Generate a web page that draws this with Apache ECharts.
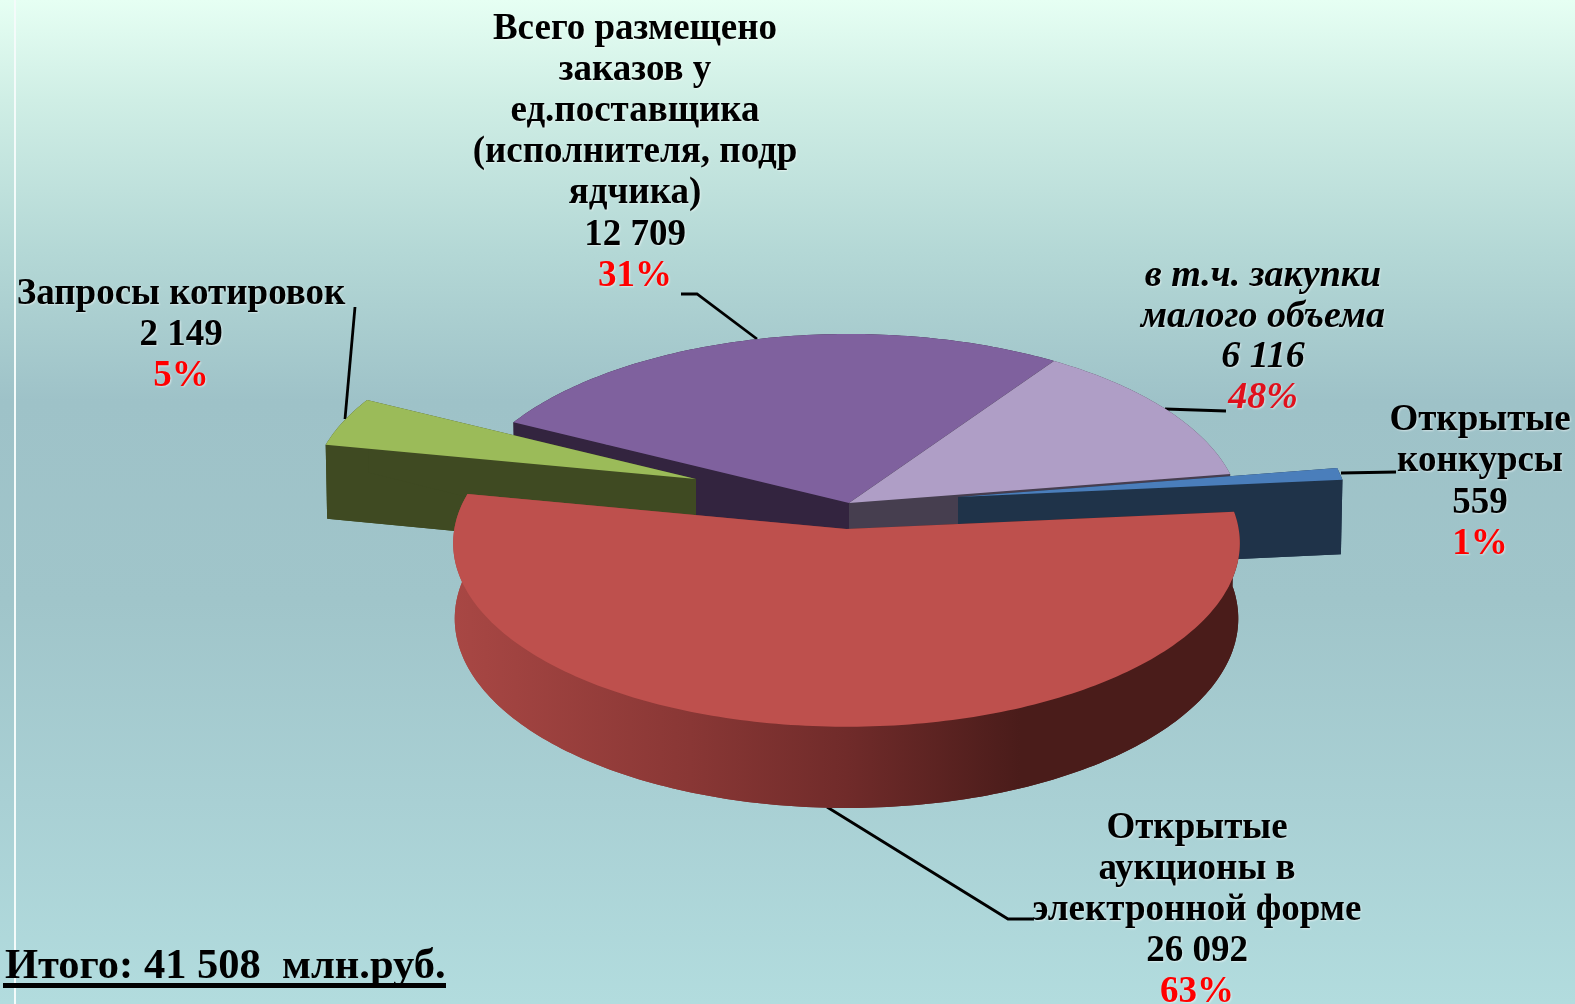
<!DOCTYPE html>
<html>
<head>
<meta charset="utf-8">
<title>Итого</title>
<style>html,body{margin:0;padding:0;}#chart{width:1575px;height:1004px;}</style>
<script src="https://cdn.jsdelivr.net/npm/echarts@6/dist/echarts.min.js"></script>
</head>
<body>
<div id="chart"></div>
<script>
// slice names, clockwise from the blue slice
var categories = ['Открытые конкурсы', 'Открытые аукционы в электронной форме', 'Запросы котировок', 'Всего размещено заказов у ед.поставщика', 'в т.ч. закупки малого объема'];
// printed on the labels
var labelValues = ['559', '26 092', '2 149', '12 709', '6 116'];
var labelPercents = ['1%', '63%', '5%', '31%', '48%'];
// share of the circle each slice really takes in the picture (%).
// the picture does not draw them to the printed numbers
var sliceShares = [1.06, 54.64, 4.47, 26.83, 13.0];
var totalText = 'Итого: 41 508  млн.руб.';

// pie geometry
var firstAngle = 80.7;
var pieX = 849, pieY = 503;
var radiusX = 391, radiusY = 182, tilt = 0.0769, depth = 75;
var bottomShrink = 0.996;

var sliceLook = [
    {top: '#4a7ebb', wall: '#1f3349', dx: 109, dy: -6, scale: 0.995},
    {top: '#be504d', wall: '#4a1c1a', dx: -2.5, dy: 26, scale: 1.003},
    {top: '#9bbb59', wall: '#3f4a22', dx: -153, dy: -24, scale: 0.98},
    {top: '#7f619e', wall: '#33243f', dx: 0, dy: 0, scale: 1},
    {top: '#af9ec6', wall: '#463e4f', dx: 0, dy: 0, scale: 1}
];
// back slices first, the red one goes over everything
var drawOrder = [3, 4, 2, 0, 1];

var labelBoxes = [
    {x: 1480, y: 420, step: 41.5, lines: ['Открытые', 'конкурсы']},
    {x: 1197, y: 828, step: 41, lines: ['Открытые', 'аукционы в', 'электронной форме']},
    {x: 181, y: 294, step: 41.3, lines: ['Запросы котировок']},
    {x: 635, y: 29, step: 41.2, lines: ['Всего размещено', 'заказов у', 'ед.поставщика', '(исполнителя, подр', 'ядчика)']},
    {x: 1263, y: 276, step: 40.8, lines: ['в т.ч. закупки', 'малого объема'], italic: true}
];
var leaders = [
    [[1341, 473], [1396, 472]],
    [[827, 807], [1008, 919], [1034, 919]],
    [[345, 419], [355, 307]],
    [[681, 294], [697, 294], [757, 339]],
    [[1165, 409], [1226, 411]]
];

var startAngles = [];
var sum = 0;
sliceShares.forEach(function (share) {
    startAngles.push(firstAngle + sum * 3.6);
    sum += share;
});

// point of the rim on the tilted circle, with a little perspective
function rimPoint(deg, look, lower) {
    var a = deg * Math.PI / 180;
    var w = 1 + tilt * Math.cos(a);
    var x = look.scale * radiusX * Math.sin(a) / w;
    var y = -look.scale * radiusY * Math.cos(a) / w;
    if (lower) {
        x = x * bottomShrink;
        y = y + depth / w;
    }
    return [pieX + look.dx + x, pieY + look.dy + y];
}
function apexPoint(look, lower) {
    return [pieX + look.dx, pieY + look.dy + (lower ? depth : 0)];
}
function face(start, end, look, lower) {
    var pts = [apexPoint(look, lower)];
    for (var d = start; d < end; d += 1) {
        pts.push(rimPoint(d, look, lower));
    }
    pts.push(rimPoint(end, look, lower));
    return pts;
}

function renderSlice(params, api) {
    var idx = api.value(0);
    var look = sliceLook[idx];
    var start = startAngles[idx];
    var end = start + api.value(1) * 3.6;
    var wallFill = look.wall;
    if (idx === 1) {
        wallFill = new echarts.graphic.LinearGradient(455, 0, 1240, 0, [
            {offset: 0, color: '#a84744'},
            {offset: 0.3, color: '#893735'},
            {offset: 0.5, color: '#702b2a'},
            {offset: 0.72, color: '#4a1c1a'},
            {offset: 1, color: '#4a1c1a'}
        ], true);
    }
    var topPts = face(start, end, look, false);
    var lowPts = face(start, end, look, true);
    var children = [];
    children.push({type: 'polygon', shape: {points: lowPts}, style: {fill: wallFill}});
    // outer wall
    var wallPts = topPts.slice(1).concat(lowPts.slice(1).reverse());
    children.push({type: 'polygon', shape: {points: wallPts}, style: {fill: wallFill}});
    // the two cut walls
    children.push({type: 'polygon', shape: {points: [topPts[0], topPts[1], lowPts[1], lowPts[0]]}, style: {fill: wallFill}});
    children.push({type: 'polygon', shape: {points: [topPts[0], topPts[topPts.length - 1], lowPts[lowPts.length - 1], lowPts[0]]}, style: {fill: wallFill}});
    children.push({type: 'polygon', shape: {points: topPts}, style: {fill: look.top}});
    return {type: 'group', children: children};
}

var textFont = '"Liberation Serif", "DejaVu Serif", serif';
function labelText(x, y, text, size, color, italic) {
    return {
        type: 'text',
        x: x,
        y: y,
        silent: true,
        style: {
            text: text,
            x: 0,
            y: 0,
            fill: color,
            font: (italic ? 'italic ' : '') + 'bold ' + size + 'px ' + textFont,
            textAlign: 'center',
            textVerticalAlign: 'middle',
            textShadowColor: 'rgba(255,255,255,0.55)',
            textShadowBlur: 2,
            textShadowOffsetX: 1,
            textShadowOffsetY: 1
        }
    };
}

var graphics = [];
// thin white line along the left edge
graphics.push({type: 'rect', shape: {x: 14, y: 0, width: 2, height: 1004}, style: {fill: '#f4fbfa'}, silent: true});
leaders.forEach(function (pts) {
    graphics.push({type: 'polyline', shape: {points: pts}, style: {stroke: '#000', lineWidth: 2.8, fill: null}, silent: true});
});
labelBoxes.forEach(function (box, i) {
    var y = box.y;
    var size = box.italic ? 38 : 37;
    box.lines.forEach(function (line) {
        graphics.push(labelText(box.x, y, line, size, '#000', box.italic));
        y += box.step;
    });
    graphics.push(labelText(box.x, y, labelValues[i], size, '#000', box.italic));
    y += box.step;
    graphics.push(labelText(box.x, y, labelPercents[i], size, box.italic ? '#e0101c' : '#ff0000', box.italic));
});
graphics.push({
    type: 'text',
    x: 5,
    y: 967,
    silent: true,
    style: {
        text: totalText,
        fill: '#000',
        font: 'bold 42.5px ' + textFont,
        textAlign: 'left',
        textVerticalAlign: 'middle'
    }
});
graphics.push({type: 'rect', shape: {x: 3, y: 983, width: 443, height: 5}, style: {fill: '#000'}, silent: true});

var myChart = echarts.init(document.getElementById('chart'), null, {renderer: 'canvas'});
myChart.setOption({
    animation: false,
    backgroundColor: new echarts.graphic.LinearGradient(0, 0, 0, 1, [
        {offset: 0, color: '#e6fff3'},
        {offset: 0.1, color: '#cfeee5'},
        {offset: 0.25, color: '#b4d8d6'},
        {offset: 0.4, color: '#9ec2c8'},
        {offset: 0.6, color: '#a0c5ca'},
        {offset: 0.8, color: '#a9d0d4'},
        {offset: 1, color: '#b2dcde'}
    ]),
    tooltip: {show: false},
    series: [{
        type: 'custom',
        coordinateSystem: 'none',
        silent: true,
        renderItem: renderSlice,
        data: drawOrder.map(function (i) {
            return {name: categories[i], value: [i, sliceShares[i]]};
        })
    }],
    graphic: graphics
});
</script>
</body>
</html>
